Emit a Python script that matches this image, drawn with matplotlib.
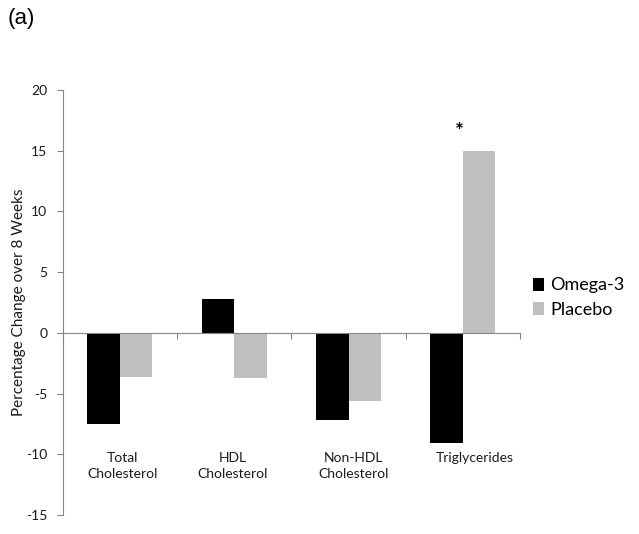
import matplotlib
matplotlib.use("Agg")
import matplotlib.pyplot as plt
import numpy as np

categories = ["Total\nCholesterol", "HDL\nCholesterol", "Non-HDL\nCholesterol", "Triglycerides"]
omega3 = [-7.5, 2.8, -7.2, -9.1]
placebo = [-3.6, -3.7, -5.6, 15.0]
yticks = [-15, -10, -5, 0, 5, 10, 15, 20]
label_offsets = [0.02, -0.01, 0.04, 0.1]

plt.rcParams['font.family'] = ['Lato', 'DejaVu Sans']

fig = plt.figure(figsize=(6.39, 5.34), dpi=100)
ax = fig.add_axes([0.098, 0.0356, 0.716, 0.796])

x = np.arange(len(categories))
w = 0.284
ax.bar(x - w/2, omega3, w, color='black', label='Omega-3')
ax.bar(x + w/2, placebo, w, color='#bfbfbf', label='Placebo')

ax.set_xlim(-0.5, len(categories) - 0.5)
ax.set_ylim(-15, 20)
ax.set_yticks(yticks)
ax.set_yticklabels([str(t) for t in yticks], fontsize=10, color='#1a1a1a')
ax.tick_params(axis='y', length=4, color='#868686', pad=7)

for s in ['top', 'right']:
    ax.spines[s].set_visible(False)
ax.spines['left'].set_color('#868686')
ax.spines['bottom'].set_position(('data', 0))
ax.spines['bottom'].set_color('#868686')
ax.set_xticks(np.arange(len(categories) + 1) - 0.5)
ax.set_xticklabels([])
ax.tick_params(axis='x', length=4, color='#868686', direction='out')

for i, c in enumerate(categories):
    ax.text(i + label_offsets[i], -9.85, c, ha='center', va='top', fontsize=10,
            color='#1a1a1a', linespacing=1.35)

ax.text(3 - 0.03, 16.5, '*', ha='center', va='center', fontsize=15, fontweight='bold')

ax.set_ylabel('Percentage Change over 8 Weeks', fontsize=11, color='#1a1a1a')
ax.yaxis.set_label_coords(-0.080, 0.5)

leg = fig.legend(*ax.get_legend_handles_labels(), loc='center left',
                 bbox_to_anchor=(0.834, 1 - 297.5 / 534), frameon=False,
                 fontsize=13, handlelength=0.6, handleheight=0.75, handletextpad=0.35,
                 labelspacing=0.45, borderpad=0, borderaxespad=0)

fig.text(0.012, 0.965, '(a)', fontsize=16, family='Liberation Sans', va='center')

fig.savefig('out.png', dpi=100)
